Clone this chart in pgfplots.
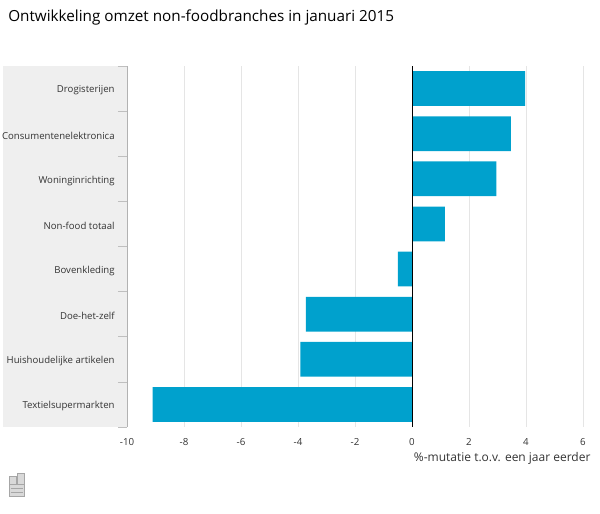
\documentclass[border=0pt]{standalone}
\usepackage{pgfplots}
\pgfplotsset{compat=1.18}
\usepackage{fontspec}
\setmainfont{Open Sans}
\definecolor{barblue}{HTML}{00A1CD}
\definecolor{band}{HTML}{EFEFEF}
\definecolor{txt}{HTML}{333333}
\begin{document}
\begin{tikzpicture}[x=1pt,y=1pt]
\useasboundingbox (0,0) rectangle (450,385.5);
\fill[band] (2.25,65.25) rectangle (95.25,336);
\node[anchor=base west,font=\fontsize{11.45}{14}\selectfont,text=black,inner sep=0] at (6,369.5) {Ontwikkeling omzet non-foodbranches in januari 2015};
\begin{axis}[
  at={(95.25pt,65.25pt)},anchor=south west,
  scale only axis,width=342pt,height=270.75pt,
  xmin=-10,xmax=6,ymin=-0.5,ymax=7.5,
  y dir=reverse,
  xbar,bar width=26pt,bar shift=0pt,
  axis line style={draw=none},
  axis x line*=bottom,
  axis y line*=left,
  xtick={-10,-8,-6,-4,-2,0,2,4,6},
  xticklabels={-10,-8,-6,-4,-2,0,2,4,6},
  xmajorgrids,
  x grid style={draw=black!10,line width=0.5pt},
  major x tick style={draw=none},
  ytick={0,1,2,3,4,5,6,7},
  yticklabels={Drogisterijen,Consumentenelektronica,Woninginrichting,Non-food totaal,Bovenkleding,Doe-het-zelf,Huishoudelijke artikelen,Textielsupermarkten},
  major y tick style={draw=none},
  minor ytick={-0.5,0.5,1.5,2.5,3.5,4.5,5.5,6.5,7.5},
  minor y tick style={draw=black!25,line width=0.5pt},
  minor tick length=6.75pt,
  tick align=outside,
  /pgf/number format/assume math mode=true,
  xticklabel style={font=\fontsize{7.3}{9}\selectfont,text=txt,yshift=-1pt},
  yticklabel style={font=\fontsize{7.2}{9}\selectfont,text=txt,anchor=east,xshift=-1.5pt,yshift=-1.5pt},
  clip=false,
]
\addplot[draw=none,fill=barblue] coordinates {(3.97,0) (3.47,1) (2.96,2) (1.15,3) (-0.5,4) (-3.72,5) (-3.92,6) (-9.1,7)};
\draw[black!30,line width=0.5pt] (rel axis cs:0,0) -- (rel axis cs:0,1);
\draw[black,line width=0.75pt] (axis cs:0,-0.5) -- (axis cs:0,7.5);
\node[anchor=base west,font=\fontsize{9}{11}\selectfont,text=txt,inner sep=0] at (axis cs:0.06,7.5) [yshift=-25.5pt] {\%-mutatie t.o.v. een jaar eerder};
\end{axis}
% small print icon
\begin{scope}[draw=black!35,fill=black!15,line width=0.4pt]
\filldraw (6.75,13) rectangle (18.5,22.5);
\filldraw (6.75,22.5) rectangle (12,28);
\filldraw (13,22.5) rectangle (18.5,30.75);
\draw (8,16) -- (17.5,16) (8,19) -- (17.5,19);
\end{scope}
\end{tikzpicture}
\end{document}
